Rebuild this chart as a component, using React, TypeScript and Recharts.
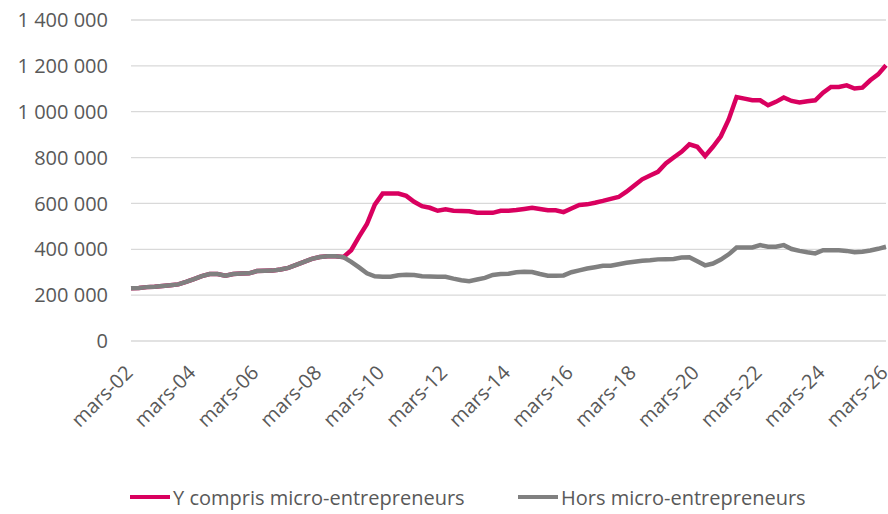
import { LineChart, Line, XAxis, YAxis, CartesianGrid } from 'recharts'

// trimestres, de mars-02 à mars-26
const QUARTERS = ['mars', 'juin', 'sept', 'déc']
const FIRST_YEAR = 2
const LAST_YEAR = 26

// effectifs en milliers
const HORS_MICRO = [
  230, 231, 235, 237, 240, 243, 247, 258, 270, 283,
  292, 292, 285, 292, 294, 295, 305, 306, 307, 312,
  319, 332, 345, 358, 366, 370, 370, 366, 345, 321,
  295, 282, 280, 280, 287, 289, 288, 282, 281, 280,
  280, 272, 265, 261, 268, 275, 288, 292, 293, 300,
  302, 301, 292, 285, 285, 286, 300, 308, 316, 322,
  328, 328, 335, 341, 346, 350, 352, 356, 357, 358,
  364, 365, 348, 330, 338, 355, 378, 408, 408, 408,
  418, 411, 411, 418, 401, 393, 387, 382, 396, 396,
  396, 393, 387, 389, 395, 402, 411,
]

const Y_COMPRIS_MICRO = [
  230, 231, 235, 237, 240, 243, 247, 258, 270, 283,
  292, 292, 285, 292, 294, 295, 305, 306, 307, 312,
  319, 332, 345, 358, 366, 370, 370, 366, 396, 455,
  510, 595, 643, 643, 643, 633, 607, 588, 581, 568,
  574, 568, 567, 566, 559, 559, 559, 568, 568, 571,
  576, 581, 576, 570, 570, 562, 578, 593, 596, 603,
  611, 620, 628, 651, 678, 705, 722, 738, 774, 800,
  825, 858, 847, 807, 847, 893, 966, 1064, 1057, 1050,
  1050, 1028, 1043, 1062, 1047, 1040, 1046, 1050, 1083, 1108,
  1108, 1115, 1101, 1105, 1137, 1163, 1203,
]

const Y_TICKS = [0, 200000, 400000, 600000, 800000, 1000000, 1200000, 1400000]

const PINK = '#d9005f'
const GREY = '#808080'
const TEXT = '#595959'
const FONT = '"Open Sans", sans-serif'

const periods: string[] = []
for (let y = FIRST_YEAR; y <= LAST_YEAR; y++) {
  for (const q of QUARTERS) periods.push(`${q}-${String(y).padStart(2, '0')}`)
}
const labels = periods.slice(0, HORS_MICRO.length)

const data = labels.map((periode, i) => ({
  periode,
  avec: Y_COMPRIS_MICRO[i] * 1000,
  hors: HORS_MICRO[i] * 1000,
}))

const fmt = (v: number) => String(v).replace(/\B(?=(\d{3})+(?!\d))/g, ' ')

const XTick = ({ x, y, payload }: { x?: number; y?: number; payload?: { value: string } }) => {
  const tx = (x ?? 0) + 3
  const ty = (y ?? 0) + 33
  return (
    <text x={tx} y={ty} transform={`rotate(-45 ${tx} ${ty})`} textAnchor="end" fill={TEXT} fontSize={20} fontFamily={FONT}>
      {payload?.value}
    </text>
  )
}

function LegendItem({ color, label, left }: { color: string; label: string; left: number }) {
  return (
    <div style={{ position: 'absolute', left, top: 484, display: 'flex', alignItems: 'center', height: 26 }}>
      <div style={{ width: 40, height: 4, background: color, marginRight: 3 }} />
      <span style={{ fontSize: 20, color: TEXT, fontFamily: FONT, whiteSpace: 'nowrap' }}>{label}</span>
    </div>
  )
}

export default function App() {
  return (
    <div style={{ position: 'absolute', left: 0, top: 0, width: 888, height: 514, background: '#fff', overflow: 'hidden' }}>
      <LineChart width={888} height={514} data={data} margin={{ top: 20, right: 2, bottom: 0, left: 0 }}>
        <CartesianGrid vertical={false} stroke="#d9d9d9" strokeWidth={1.3} />
        <XAxis
          dataKey="periode"
          interval={7}
          axisLine={false}
          tickLine={false}
          tickSize={0}
          tickMargin={0}
          height={173}
          tick={<XTick />}
        />
        <YAxis
          domain={[0, 1400000]}
          ticks={Y_TICKS}
          width={131}
          axisLine={false}
          tickLine={false}
          tickSize={0}
          tickMargin={23}
          tickFormatter={fmt}
          tick={{ fill: TEXT, fontSize: 20, fontFamily: FONT }}
        />
        <Line type="linear" dataKey="avec" name="Y compris micro-entrepreneurs" stroke={PINK} strokeWidth={4.5} dot={false} isAnimationActive={false} />
        <Line type="linear" dataKey="hors" name="Hors micro-entrepreneurs" stroke={GREY} strokeWidth={4.5} dot={false} isAnimationActive={false} />
      </LineChart>
      <LegendItem color={PINK} label="Y compris micro-entrepreneurs" left={130} />
      <LegendItem color={GREY} label="Hors micro-entrepreneurs" left={518} />
    </div>
  )
}
